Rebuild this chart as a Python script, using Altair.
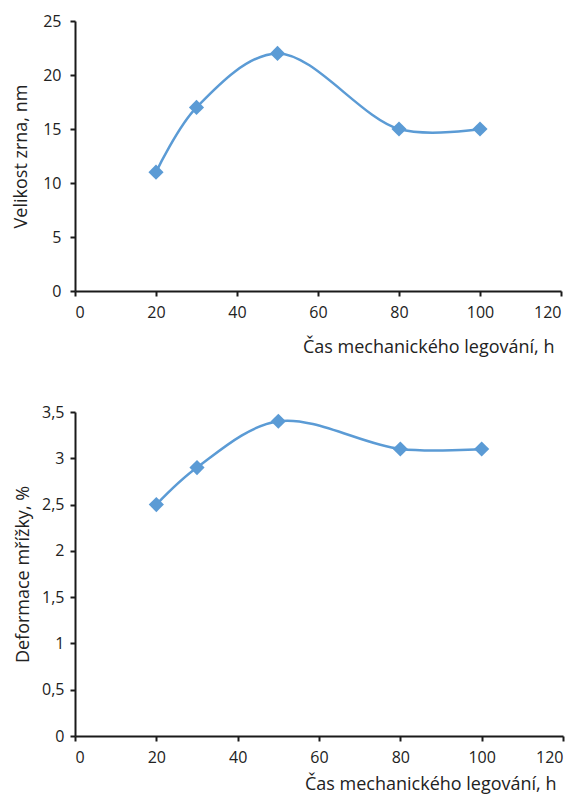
import altair as alt
import pandas as pd

hours = [20, 30, 50, 80, 100]
grain_size = [11, 17, 22, 15, 15]
lattice_strain = [2.5, 2.9, 3.4, 3.1, 3.1]

x_title = "Čas mechanického legování, h"
top_title = "Velikost zrna, nm"
bottom_title = "Deformace mřížky, %"

color = "#5B9BD5"
font = "Open Sans"

df1 = pd.DataFrame({"h": hours, "v": grain_size})
df2 = pd.DataFrame({"h": hours, "v": lattice_strain})


def panel(df, ytitle, ymax, ystep, w, h, xtitle_pad, ylab_pad, ytitle_pad):
    xenc = alt.X(
        "h:Q",
        scale=alt.Scale(domain=[0, 120], nice=False),
        axis=alt.Axis(
            title=x_title, values=[0, 20, 40, 60, 80, 100, 120],
            titleAnchor="end", titleAlign="right", titleX=w - 7,
            titlePadding=xtitle_pad, labelPadding=8,
            grid=False,
        ),
    )
    yaxis = alt.Axis(
        title=ytitle,
        values=[round(i * ystep, 2) for i in range(int(round(ymax / ystep)) + 1)],
        grid=False, labelPadding=ylab_pad, titlePadding=ytitle_pad,
        format="~g",
        labelExpr="replace(datum.label, '.', ',')",
    )
    yenc = alt.Y("v:Q", scale=alt.Scale(domain=[0, ymax], nice=False), axis=yaxis)
    base = alt.Chart(df).encode(x=xenc, y=yenc)
    line = base.mark_line(color=color, strokeWidth=2.5, interpolate="catmull-rom")
    pts = base.mark_point(shape="diamond", filled=True, color=color, size=230, opacity=1)
    return (line + pts).properties(width=w, height=h)


top = panel(df1, top_title, 25, 5, 486, 270, 18, 9, 12)
bottom = panel(df2, bottom_title, 3.5, 0.5, 488, 324, 10, 6, 9)

chart = alt.vconcat(top, bottom, spacing=48).properties(
    padding={"left": 4, "top": 5, "right": 5, "bottom": 5}
).configure_view(stroke=None).configure_axis(
    domainColor="#1a1a1a", domainWidth=2, tickColor="#1a1a1a", tickWidth=2,
    tickSize=5, labelFont=font, labelFontSize=16, labelColor="#222222",
    titleFont=font, titleFontSize=18, titleFontWeight="normal", titleColor="#222222",
)

chart.save("out.html", embed_options={"renderer": "svg", "actions": False})
